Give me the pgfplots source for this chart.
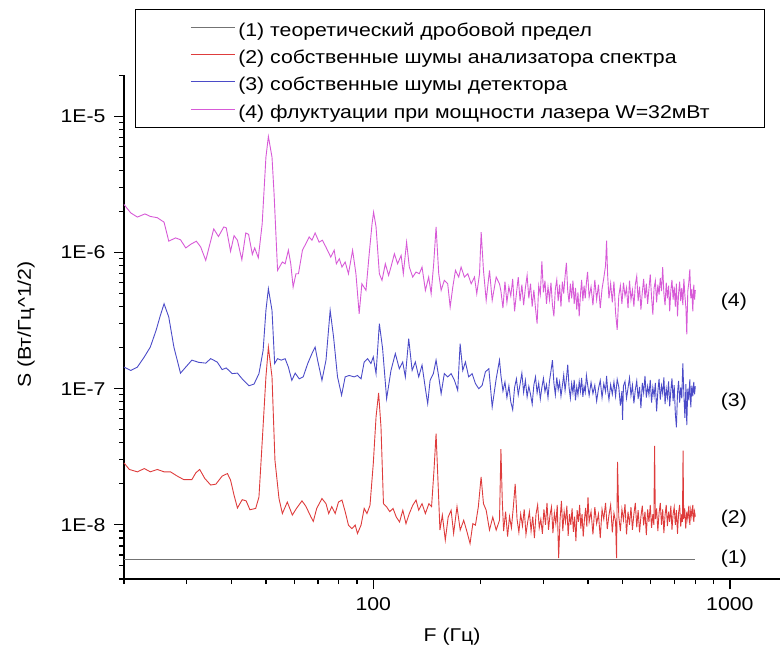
\documentclass[border=0pt]{standalone}
\usepackage{pgfplots}
\pgfplotsset{compat=1.18}
\usepackage{fontspec}
\setmainfont{Liberation Sans}[FakeStretch=1.15]
\definecolor{cgray}{RGB}{115,115,115}
\definecolor{cred}{RGB}{222,60,60}
\definecolor{cblue}{RGB}{75,75,200}
\definecolor{cmag}{RGB}{215,90,215}
\begin{document}
\begin{tikzpicture}[font=\fontsize{18.5bp}{22bp}\selectfont]
\begin{axis}[
  scale only axis, width=656bp, height=503.7bp,
  xmode=log, ymode=log,
  xmin=20, xmax=1382, ymin=4e-9, ymax=2e-5,
  enlargelimits=false, clip=false,
  axis x line=bottom, axis y line=left,
  axis line style={-, line width=1.3bp, black},
  tick align=outside,
  major tick length=10bp, minor tick length=5bp,
  tick style={line width=1.2bp, black},
  xtick={100,1000}, xticklabels={100,1000},
  xticklabel style={yshift=-5bp},
  yticklabel style={xshift=-5bp},
  minor xtick={20,30,40,50,60,70,80,90,200,300,400,500,600,700,800,900},
  ytick={1e-8,1e-7,1e-6,1e-5}, yticklabels={1E-8,1E-7,1E-6,1E-5},
  minor ytick={4e-9,5e-9,6e-9,7e-9,8e-9,9e-9,2e-8,3e-8,4e-8,5e-8,6e-8,7e-8,8e-8,9e-8,2e-7,3e-7,4e-7,5e-7,6e-7,7e-7,8e-7,9e-7,2e-6,3e-6,4e-6,5e-6,6e-6,7e-6,8e-6,9e-6,2e-5},
  xlabel={F (Гц)}, ylabel={S (Вт/Гц\textasciicircum 1/2)},
  xlabel style={at={(axis description cs:0.5,0)}, anchor=center, yshift=-58bp},
  ylabel style={at={(axis description cs:0,0.505)}, anchor=center, yshift=98bp},
  legend style={at={(axis description cs:0,1)}, anchor=north west, xshift=10.7bp, yshift=66.3bp,
    draw=black, line width=1.1bp, inner xsep=55bp, inner ysep=7bp, row sep=5.2bp, column sep=3bp,
    nodes={inner sep=0pt, text height=20bp, text depth=2bp, anchor=west}},
  legend cell align=left,
  legend image code/.code={\draw[#1, line width=1bp] (3.3bp,0bp) -- (47.3bp,0bp);},
]
\addplot[cgray, line width=1.5bp] table {
20 5.56e-9
800 5.56e-9
};
\addlegendentry{(1) теоретический дробовой предел}
\addplot[cred, line width=0.9bp] table {
20.0 2.85e-8
20.7 2.55e-8
21.8 2.45e-8
22.8 2.59e-8
23.7 2.45e-8
24.8 2.55e-8
25.9 2.45e-8
27.0 2.45e-8
28.2 2.28e-8
29.4 2.15e-8
31.0 2.15e-8
31.8 2.41e-8
32.6 2.55e-8
33.7 2.19e-8
35.0 1.96e-8
36.2 1.99e-8
37.7 2.28e-8
39.0 2.38e-8
39.8 2.13e-8
40.7 1.65e-8
41.6 1.33e-8
42.9 1.53e-8
44.0 1.50e-8
45.1 1.29e-8
46.8 1.32e-8
47.8 1.60e-8
48.9 4.42e-8
50.0 1.22e-7
50.8 2.02e-7
52.0 1.22e-7
53.0 2.98e-8
54.4 1.56e-8
55.6 1.21e-8
57.4 1.47e-8
59.3 1.18e-8
60.9 1.32e-8
63.1 1.50e-8
64.7 1.37e-8
66.9 1.14e-8
67.9 1.06e-8
69.4 1.32e-8
71.8 1.56e-8
73.7 1.43e-8
75.0 1.21e-8
76.5 1.36e-8
78.2 1.21e-8
79.9 1.47e-8
81.7 1.52e-8
83.4 1.25e-8
85.2 9.95e-9
87.1 9.39e-9
89.0 9.95e-9
90.3 8.63e-9
92.4 9.95e-9
94.3 1.32e-8
96.0 1.21e-8
97.9 1.39e-8
100.0 2.82e-8
101.8 6.20e-8
103.5 9.30e-8
105.1 5.24e-8
106.8 1.43e-8
108.9 1.36e-8
111.2 1.25e-8
113.6 1.32e-8
116.0 1.14e-8
118.5 1.05e-8
121.0 1.28e-8
123.5 1.02e-8
126.2 1.21e-8
129.0 1.39e-8
131.8 1.52e-8
134.1 1.28e-8
137.0 1.43e-8
140.0 1.21e-8
143.2 1.43e-8
145.7 1.36e-8
148.0 2.52e-8
150.0 4.68e-8
151.7 2.25e-8
153.8 9.15e-9
156.2 1.18e-8
159.2 7.72e-9
162.2 1.14e-8
165.3 1.28e-8
168.0 8.63e-9
171.7 1.36e-8
175.3 9.15e-9
179.3 1.08e-8
182.6 9.15e-9
186.8 7.29e-9
190.2 1.02e-8
193.4 9.95e-9
197.1 1.36e-8
200.6 2.25e-8
203.7 1.43e-8
207.3 1.28e-8
211.8 9.15e-9
216.3 1.14e-8
221.1 9.15e-9
225.9 1.08e-8
228 3.6e-8
230 1.5e-8
232 9.0e-9
235 1.25e-8
238 8.2e-9
241 1.15e-8
244 9.5e-9
247 1.35e-8
250 2.0e-8
253 1.1e-8
256 8.8e-9
259 1.2e-8
262 9.8e-9
265 1.3e-8
268 8.5e-9
271 1.05e-8
274 1.25e-8
277 9.0e-9
280 1.15e-8
283 8.0e-9
286 1.2e-8
289 1.4e-8
292 9.5e-9
295 1.1e-8
298 8.6e-9
301 1.3e-8
304 1.0e-8
307 1.45e-8
310 9.2e-9
313 1.18e-8
316 1.35e-8
319 8.7e-9
322 1.22e-8
325 1.02e-8
328 1.4e-8
331 5.7e-9
334 1.1e-8
337 1.5e-8
340 9.0e-9
343 1.25e-8
346 1.05e-8
349 1.38e-8
352 8.3e-9
355 1.2e-8
358 1.0e-8
361 1.32e-8
364 8.9e-9
367 1.15e-8
370 7.6e-9
373 1.28e-8
376 1.05e-8
379 1.4e-8
382 9.4e-9
385 1.2e-8
388 8.2e-9
391 1.1e-8
394 1.33e-8
397 9.7e-9
400 1.6e-8
403 1.05e-8
408 1.25e-8
413 8.5e-9
418 1.35e-8
423 1.02e-8
428 1.2e-8
433 8.0e-9
438 1.3e-8
443 1.1e-8
448 1.45e-8
453 9.3e-9
458 1.18e-8
463 1.4e-8
468 8.8e-9
473 1.22e-8
478 1.05e-8
481 5.7e-9
484 2.9e-8
488 1.15e-8
493 9.0e-9
498 1.3e-8
503 1.08e-8
508 1.42e-8
513 8.5e-9
518 1.25e-8
523 1.0e-8
528 1.35e-8
533 9.2e-9
538 1.2e-8
543 1.45e-8
548 9.6e-9
553 1.28e-8
558 8.8e-9
563 1.15e-8
568 1.38e-8
573 9.9e-9
578 1.25e-8
583 8.4e-9
588 1.3e-8
593 1.05e-8
598 1.4e-8
603 9.5e-9
608 1.2e-8
612 1.0e-8
615 3.8e-8
618 1.1e-8
623 1.32e-8
628 9.0e-9
633 1.22e-8
638 1.45e-8
643 1.0e-8
648 1.3e-8
653 8.7e-9
658 1.18e-8
663 1.4e-8
668 9.8e-9
673 1.25e-8
678 1.05e-8
683 1.38e-8
688 9.2e-9
693 1.2e-8
698 1.35e-8
703 1.0e-8
708 1.28e-8
713 8.6e-9
718 1.22e-8
723 1.4e-8
728 9.7e-9
733 1.2e-8
736 1.05e-8
739 3.5e-8
742 1.1e-8
747 1.32e-8
752 9.4e-9
757 1.25e-8
762 1.1e-8
767 1.38e-8
772 1.0e-8
777 1.3e-8
782 1.15e-8
787 1.4e-8
792 1.05e-8
796 1.25e-8
800 1.15e-8
};
\addlegendentry{(2) собственные шумы анализатора спектра}
\addplot[cblue, line width=0.9bp] table {
20.0 1.44e-7
20.9 1.36e-7
21.8 1.44e-7
22.8 1.71e-7
23.7 2.02e-7
24.6 2.68e-7
25.3 3.46e-7
25.9 4.20e-7
26.7 3.36e-7
27.6 2.02e-7
28.8 1.30e-7
29.8 1.44e-7
31.0 1.62e-7
32.4 1.56e-7
33.9 1.54e-7
35.0 1.66e-7
36.5 1.57e-7
37.7 1.38e-7
38.7 1.42e-7
40.2 1.29e-7
41.6 1.30e-7
42.9 1.18e-7
44.8 1.05e-7
46.3 1.08e-7
47.8 1.29e-7
49.1 1.91e-7
50.0 3.76e-7
50.8 5.42e-7
52.0 3.76e-7
52.9 1.53e-7
53.9 1.66e-7
55.2 1.62e-7
56.6 1.66e-7
57.8 1.44e-7
59.1 1.15e-7
60.4 1.30e-7
62.0 1.18e-7
63.6 1.22e-7
65.5 1.53e-7
67.3 1.81e-7
68.7 2.02e-7
69.8 1.62e-7
71.8 1.15e-7
73.7 1.62e-7
75.7 3.76e-7
77.4 2.39e-7
79.4 1.22e-7
81.5 8.95e-8
83.4 1.22e-7
85.6 1.25e-7
88.4 1.22e-7
90.3 1.25e-7
92.4 1.18e-7
94.3 1.57e-7
96.4 1.66e-7
98.5 1.53e-7
100.0 1.71e-7
101.8 1.29e-7
104.0 3.00e-7
106.2 1.97e-7
109.0 8.45e-8
112.1 1.36e-7
115.3 1.81e-7
118.3 1.40e-7
120.9 1.57e-7
123.0 1.22e-7
125.7 2.33e-7
128.5 1.36e-7
131.2 1.57e-7
134.1 1.22e-7
137.0 1.49e-7
140.0 1.00e-7
142.1 7.76e-8
144.3 1.15e-7
147.4 1.29e-7
150.0 1.62e-7
152.6 1.22e-7
155.0 9.19e-8
158.2 1.29e-7
161.7 1.22e-7
165.3 1.29e-7
168.9 1.15e-7
172.5 9.73e-8
175.2 2.14e-7
178.2 1.36e-7
181.3 1.57e-7
185.2 1.22e-7
189.3 1.29e-7
193.4 1.09e-7
197.6 1.00e-7
202.0 1.06e-7
206.3 1.33e-7
210.9 1.40e-7
215.5 7.34e-8
221.1 1.18e-7
225.9 1.62e-7
228 1.25e-7
231 9.6e-8
234 1.12e-7
237 8.6e-8
240 1.05e-7
243 8.0e-8
246 7.0e-8
249 1.02e-7
252 1.18e-7
255 9.0e-8
258 1.08e-7
261 1.30e-7
264 9.4e-8
267 1.15e-7
270 8.7e-8
273 1.04e-7
276 9.1e-8
279 7.7e-8
282 1.06e-7
285 1.22e-7
288 9.3e-8
291 1.10e-7
294 8.4e-8
297 1.02e-7
300 1.19e-7
303 9.5e-8
306 1.07e-7
309 8.6e-8
312 1.14e-7
315 1.35e-7
318 1.62e-7
321 1.10e-7
324 9.0e-8
327 1.21e-7
330 9.8e-8
333 1.12e-7
336 8.8e-8
339 1.05e-7
342 1.26e-7
345 9.7e-8
348 1.18e-7
351 1.50e-7
354 1.02e-7
357 8.5e-8
360 1.09e-7
363 9.3e-8
366 1.16e-7
369 8.2e-8
372 1.03e-7
375 9.0e-8
378 1.13e-7
381 9.6e-8
384 1.20e-7
387 8.7e-8
390 1.04e-7
393 9.4e-8
396 1.25e-7
399 1.08e-7
403 8.9e-8
408 1.11e-7
413 9.2e-8
418 1.06e-7
423 8.1e-8
428 1.00e-7
433 1.15e-7
438 8.6e-8
443 1.09e-7
448 9.5e-8
451 1.24e-7
454 9.9e-8
458 8.3e-8
463 1.07e-7
468 9.1e-8
473 1.12e-7
478 8.8e-8
483 1.17e-7
488 1.03e-7
493 7.5e-8
498 9.6e-8
500 5.9e-8
503 1.05e-7
508 1.13e-7
513 8.5e-8
518 1.01e-7
523 1.20e-7
528 8.9e-8
533 1.06e-7
538 7.8e-8
543 9.8e-8
548 1.14e-7
553 8.4e-8
558 1.03e-7
563 7.2e-8
568 1.10e-7
573 9.3e-8
578 1.24e-7
583 8.6e-8
588 1.04e-7
593 9.0e-8
598 1.16e-7
603 7.9e-8
608 1.02e-7
613 8.8e-8
618 1.10e-7
623 6.8e-8
628 9.5e-8
633 1.18e-7
638 8.3e-8
643 1.05e-7
648 9.2e-8
653 1.21e-7
658 7.7e-8
663 1.00e-7
668 8.6e-8
673 1.13e-7
678 7.4e-8
683 9.7e-8
688 1.19e-7
693 8.1e-8
698 1.06e-7
703 6.6e-8
708 5.2e-8
713 9.3e-8
718 1.14e-7
723 7.9e-8
728 1.02e-7
733 8.5e-8
738 1.53e-7
743 9.0e-8
748 6.1e-8
753 1.08e-7
757 5.4e-8
762 1.00e-7
767 8.2e-8
772 1.17e-7
777 7.3e-8
782 1.05e-7
787 8.8e-8
792 1.12e-7
796 9.1e-8
800 1.04e-7
};
\addlegendentry{(3) собственные шумы детектора}
\addplot[cmag, line width=0.9bp] table {
20.0 2.25e-6
20.9 1.95e-6
21.8 1.82e-6
22.9 1.92e-6
23.7 1.84e-6
24.8 1.80e-6
25.9 1.67e-6
26.7 1.21e-6
27.9 1.28e-6
28.8 1.24e-6
29.8 1.08e-6
30.8 1.15e-6
31.9 1.21e-6
32.8 1.10e-6
33.9 8.75e-7
35.7 1.49e-6
36.8 1.31e-6
38.1 1.54e-6
38.7 1.52e-6
39.8 1.02e-6
40.7 1.33e-6
41.6 1.23e-6
42.8 8.84e-7
43.9 1.39e-6
44.7 1.36e-6
45.8 9.68e-7
46.5 1.08e-6
47.6 9.14e-7
48.8 1.62e-6
50.0 5.01e-6
50.8 7.11e-6
52.0 5.01e-6
52.7 2.70e-6
53.9 7.39e-7
55.6 8.51e-7
56.6 8.26e-7
57.8 1.04e-6
58.7 8.26e-7
59.6 5.57e-7
60.7 6.98e-7
61.7 6.98e-7
63.3 1.04e-6
64.7 1.16e-6
66.1 1.30e-6
67.3 1.23e-6
68.7 1.39e-6
70.5 1.19e-6
72.0 1.23e-6
73.6 1.10e-6
76.0 9.25e-7
77.7 1.04e-6
78.8 8.26e-7
80.3 8.99e-7
81.7 7.82e-7
83.4 8.51e-7
85.2 6.98e-7
87.5 1.04e-6
89.4 6.98e-7
91.3 3.55e-7
92.9 5.89e-7
95.4 5.27e-7
97.4 9.78e-7
99.2 1.62e-6
100.2 1.98e-6
101.8 1.54e-6
104.0 6.98e-7
105.8 6.24e-7
108.1 8.26e-7
110.4 6.79e-7
112.1 7.82e-7
114.6 9.78e-7
117.0 8.26e-7
119.7 9.52e-7
121.4 6.98e-7
124.0 1.19e-6
126.2 7.82e-7
129.0 6.60e-7
131.8 7.18e-7
134.6 6.98e-7
137.0 7.82e-7
140.0 5.27e-7
143.0 6.60e-7
145.3 4.98e-7
147.7 8.26e-7
150.0 1.54e-6
152.6 6.98e-7
155.0 5.27e-7
158.2 6.24e-7
161.7 5.89e-7
164.3 3.97e-7
167.1 5.57e-7
170.0 7.39e-7
173.6 6.60e-7
176.3 7.82e-7
180.1 6.60e-7
184.1 6.98e-7
188.2 5.89e-7
192.2 6.60e-7
195.1 4.98e-7
198.6 6.98e-7
200.7 1.41e-6
203.7 7.39e-7
207.3 4.45e-7
211.8 7.39e-7
215.5 4.45e-7
221.1 6.60e-7
225.9 5.89e-7
228 5.2e-7
231 3.9e-7
234 6.1e-7
237 4.3e-7
240 5.6e-7
243 4.8e-7
246 6.4e-7
249 3.7e-7
252 5.0e-7
255 6.6e-7
258 4.4e-7
261 5.8e-7
264 4.1e-7
267 5.5e-7
270 6.8e-7
273 4.6e-7
276 5.9e-7
279 4.0e-7
282 5.3e-7
285 3.9e-7
288 3.0e-7
291 5.7e-7
294 4.9e-7
297 8.6e-7
300 5.1e-7
303 6.2e-7
306 4.2e-7
309 5.6e-7
312 4.5e-7
315 6.0e-7
318 4.1e-7
321 3.4e-7
324 5.4e-7
327 6.3e-7
330 4.4e-7
333 5.8e-7
336 4.0e-7
339 6.1e-7
342 5.0e-7
345 6.7e-7
348 8.4e-7
351 5.2e-7
354 4.3e-7
357 5.9e-7
360 4.6e-7
363 6.2e-7
366 4.2e-7
369 5.5e-7
372 3.8e-7
375 5.1e-7
378 3.4e-7
381 4.9e-7
384 6.3e-7
387 4.4e-7
390 5.7e-7
393 4.6e-7
396 6.0e-7
399 7.2e-7
403 4.7e-7
408 5.6e-7
413 4.1e-7
418 6.3e-7
423 4.5e-7
428 5.8e-7
433 3.9e-7
438 5.4e-7
443 6.5e-7
448 8.0e-7
451 1.22e-6
454 6.9e-7
458 4.6e-7
463 5.9e-7
468 4.3e-7
473 6.1e-7
478 3.6e-7
483 2.7e-7
488 4.8e-7
493 5.7e-7
498 4.2e-7
503 6.0e-7
508 4.8e-7
513 5.5e-7
518 3.9e-7
523 6.2e-7
528 4.5e-7
533 5.3e-7
538 4.0e-7
543 5.8e-7
548 6.7e-7
553 4.4e-7
558 5.6e-7
563 3.8e-7
568 5.1e-7
573 6.4e-7
578 4.6e-7
583 5.9e-7
588 4.2e-7
593 5.4e-7
598 6.9e-7
603 4.7e-7
608 3.5e-7
613 5.5e-7
618 6.2e-7
623 4.3e-7
628 5.8e-7
633 4.9e-7
638 6.5e-7
643 5.2e-7
648 7.8e-7
653 5.0e-7
658 4.1e-7
663 6.0e-7
668 4.6e-7
673 5.7e-7
678 3.7e-7
683 5.3e-7
688 6.3e-7
693 4.5e-7
698 5.6e-7
703 4.0e-7
708 5.9e-7
713 3.4e-7
718 5.0e-7
723 6.1e-7
728 4.4e-7
733 5.5e-7
738 4.1e-7
743 6.4e-7
748 4.8e-7
753 3.9e-7
757 2.5e-7
762 5.2e-7
767 6.0e-7
772 7.5e-7
777 4.6e-7
782 5.4e-7
787 3.7e-7
792 5.8e-7
796 4.5e-7
800 5.3e-7
};
\addlegendentry{(4) флуктуации при мощности лазера W=32мВт}
\node at (axis cs:1026,4.33e-7) {(4)};
\node at (axis cs:1026,8.0e-8) {(3)};
\node at (axis cs:1026,1.11e-8) {(2)};
\node at (axis cs:1026,5.63e-9) {(1)};
\end{axis}
\pgfresetboundingbox
\path (-124bp,-75.3bp) rectangle (657bp,579bp);
\end{tikzpicture}
\end{document}
